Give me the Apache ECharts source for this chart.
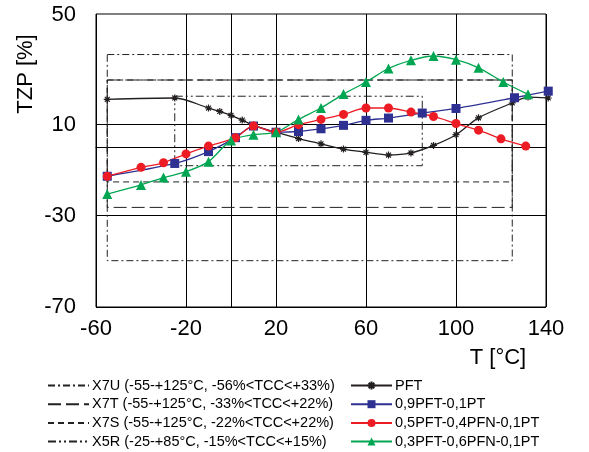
<!DOCTYPE html>
<html>
<head>
<meta charset="utf-8">
<script src="https://cdn.jsdelivr.net/npm/echarts@6/dist/echarts.min.js"></script>
<style>
  html, body { margin: 0; padding: 0; background: #fff; }
  #chart { width: 589px; height: 452px; }
</style>
</head>
<body>
<div id="chart"></div>
<script>
// Temperature dependence of capacitance (TZP) for four compositions
const pftT   = [-55, -25, -10, -5, 0, 5, 10, 20, 30, 40, 50, 60, 70, 80, 90, 100, 110, 125, 132, 141];
const pftV   = [21.0, 21.6, 17.2, 15.7, 14.0, 11.9, 9.6, 6.6, 3.8, 1.5, -0.8, -2.2, -3.4, -2.5, 0.8, 5.5, 12.9, 19.4, 22.0, 21.6];

const pft91T = [-55, -25, -10, 2, 10, 20, 30, 40, 50, 60, 70, 85, 100, 126, 141];
const pft91V = [-12.7, -7.1, -1.9, 4.2, 9.3, 6.6, 6.9, 8.1, 9.6, 11.8, 12.8, 15.0, 17.0, 21.7, 24.6];

const pfn541T = [-55, -40, -30, -20, -10, 2, 10, 20, 30, 40, 50, 60, 70, 80, 90, 100, 110, 120, 131];
const pfn541V = [-12.7, -8.8, -6.8, -2.9, 0.5, 4.2, 9.3, 6.6, 9.9, 12.2, 14.4, 17.2, 17.2, 15.4, 13.5, 10.4, 7.5, 3.7, 0.5];

const pfn361T = [-55, -40, -30, -20, -10, 0, 10, 20, 30, 40, 50, 60, 70, 80, 90, 100, 110, 121, 132];
const pfn361V = [-20.5, -16.5, -13.3, -10.7, -6.3, 3.0, 5.5, 6.6, 12.2, 17.2, 23.3, 28.6, 34.5, 38.1, 40.0, 38.4, 34.8, 28.6, 23.2];

const seriesNames = ['PFT', '0,9PFT-0,1PT', '0,5PFT-0,4PFN-0,1PT', '0,3PFT-0,6PFN-0,1PT'];

// EIA class limits (temperature range and allowed TCC band)
const classNames = [
  'X7U (-55-+125°C, -56%<TCC<+33%)',
  'X7T (-55-+125°C, -33%<TCC<+22%)',
  'X7S (-55-+125°C, -22%<TCC<+22%)',
  'X5R (-25-+85°C, -15%<TCC<+15%)'
];
const classTmin = [-55, -55, -55, -25];
const classTmax = [125, 125, 125, 85];
const classLow  = [-56, -33, -22, -15];
const classHigh = [33, 22, 22, 15];

// Axis ticks
const xTicks = [-60, -20, 20, 60, 100, 140];
const yTicks = [-70, -30, 10];
const yTopTick = [50];

const FONT = '"Liberation Sans", Arial, sans-serif';

function pairs(xs, ys) { return xs.map((x, i) => [x, ys[i]]); }
function box(i) {
  return [
    [classTmin[i], classHigh[i]], [classTmax[i], classHigh[i]],
    [classTmax[i], classLow[i]], [classTmin[i], classLow[i]],
    [classTmin[i], classHigh[i]]
  ];
}

const dashes = [[7, 3, 2, 3], [13, 5], [6, 4], [8, 3, 2, 3, 2, 3]];

const classSeries = classNames.map((n, i) => ({
  name: n,
  type: 'line',
  yAxisIndex: 1,
  data: box(i),
  symbol: 'none',
  silent: true,
  z: 1,
  lineStyle: { color: '#222', width: 1, type: dashes[i] },
  itemStyle: { color: '#222' }
}));

const asterisk = 'path://M0,5L10,5M5,0L5,10M1.5,1.5L8.5,8.5M8.5,1.5L1.5,8.5';
const colors = ['#231f20', '#2e3192', '#ed1c24', '#00a651'];
const symbols = [asterisk, 'rect', 'circle', 'triangle'];
const sizes = [7, 9, 9, 10];
const dataSets = [pairs(pftT, pftV), pairs(pft91T, pft91V), pairs(pfn541T, pfn541V), pairs(pfn361T, pfn361V)];

const dataSeries = seriesNames.map((n, i) => ({
  name: n,
  type: 'line',
  data: dataSets[i],
  smooth: 0.3,
  clip: false,
  z: 3,
  symbol: symbols[i],
  symbolSize: sizes[i],
  showAllSymbol: true,
  lineStyle: { color: colors[i], width: 1.3 },
  itemStyle: i === 0
    ? { color: 'transparent', borderColor: colors[0], borderWidth: 1.2 }
    : { color: colors[i], borderWidth: 0 }
}));

const legendText = { fontSize: 14.5, lineHeight: 15, color: '#000', fontFamily: FONT, padding: [0, 0, 0, -2] };

const chart = echarts.init(document.getElementById('chart'), null, { renderer: 'canvas' });

chart.setOption({
  animation: false,
  backgroundColor: '#fff',
  textStyle: { fontFamily: FONT, color: '#000' },
  grid: {
    left: 96, right: 43, top: 14, bottom: 145,
    show: true, borderColor: '#000', borderWidth: 1, backgroundColor: 'transparent'
  },
  xAxis: {
    type: 'value',
    min: xTicks[0], max: xTicks[xTicks.length - 1], interval: 40,
    axisLine: { show: true, lineStyle: { color: '#000', width: 1 } },
    axisTick: { show: false },
    axisLabel: { fontSize: 22, color: '#000', margin: 11, fontFamily: FONT },
    splitLine: { show: true, lineStyle: { color: '#000', width: 1 } }
  },
  yAxis: [
    {
      type: 'value',
      min: -70, max: 58.4,
      axisLine: { show: true, lineStyle: { color: '#000', width: 1 } },
      axisTick: { show: false, customValues: yTicks },
      axisLabel: { fontSize: 22, color: '#000', margin: 20, fontFamily: FONT, customValues: yTicks },
      splitLine: { show: true, lineStyle: { color: '#000', width: 1 } }
    },
    {
      type: 'value',
      position: 'left',
      min: -76, max: 50.5,
      axisLine: { show: false },
      axisTick: { show: false, customValues: yTopTick },
      axisLabel: { fontSize: 22, color: '#000', margin: 20, fontFamily: FONT, customValues: yTopTick },
      splitLine: { show: false }
    }
  ],
  legend: [
    {
      data: classNames,
      orient: 'vertical',
      left: 47, top: 378, height: 80,
      padding: 0,
      itemWidth: 41, itemHeight: 10, itemGap: 3.7,
      itemStyle: { opacity: 0 },
      textStyle: legendText,
      selectedMode: false
    },
    {
      data: seriesNames,
      orient: 'vertical',
      left: 350, top: 378, height: 80,
      padding: 0,
      itemWidth: 41, itemHeight: 10, itemGap: 3.7,
      textStyle: legendText,
      selectedMode: false
    }
  ],
  graphic: [
    {
      type: 'text', x: 26, y: 74, rotation: Math.PI / 2,
      style: { text: 'TZP [%]', font: '22px ' + FONT, fill: '#000', textAlign: 'center', textVerticalAlign: 'middle' }
    },
    {
      type: 'text', x: 498, y: 358,
      style: { text: 'T [°C]', font: '22px ' + FONT, fill: '#000', textAlign: 'center', textVerticalAlign: 'middle' }
    }
  ],
  series: classSeries.concat(dataSeries)
});
</script>
</body>
</html>
